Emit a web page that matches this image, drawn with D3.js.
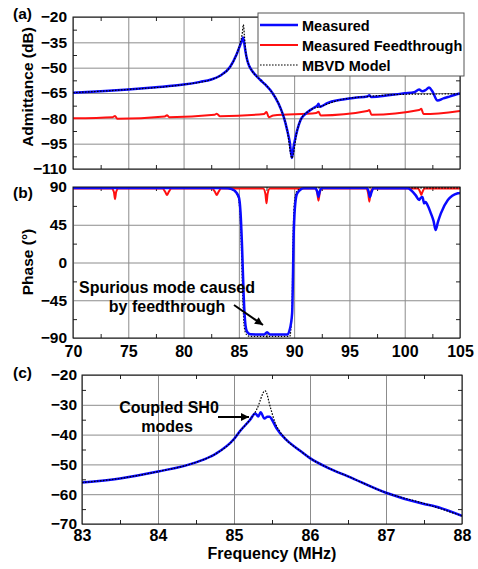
<!DOCTYPE html>
<html><head><meta charset="utf-8">
<script src="https://cdn.jsdelivr.net/npm/d3@7"></script>
<style>
html,body{margin:0;padding:0;background:#fff;}
text{font-family:"Liberation Sans",Arial,sans-serif;font-weight:bold;fill:#000;}
</style></head>
<body><svg id="chart" width="478" height="569"></svg>
<script>
// ---------------- DATA ----------------
// Panel (a): admittance (dB) vs frequency (MHz)
const aMeasured = [[70,-64.8],[72.5,-63.9],[75,-62.9],[77.5,-61.6],[80,-60],[81.5,-58.4],[82.5,-57],[83.3,-54.8],[84.2,-49.6],[84.8,-42],[85.1,-37],[85.3,-33.5],[85.38,-32.2],[85.45,-34],[85.6,-40.5],[85.75,-45.3],[85.9,-48.4],[86.05,-50.4],[86.5,-54.3],[86.95,-57.3],[87.4,-60.1],[87.86,-63.4],[88.3,-67.8],[88.77,-74],[89.1,-80],[89.37,-87],[89.6,-94],[89.8,-103.5],[89.95,-97],[90.1,-92],[90.28,-87],[90.58,-81],[91.0,-77.5],[91.49,-75],[91.9,-73.3],[92.1,-72.4],[92.2,-71.4],[92.3,-73.2],[92.5,-72.8],[93,-71],[94.2,-69],[95.5,-67.8],[96.6,-67.1],[96.8,-66.4],[96.95,-67.3],[98.7,-66.2],[100,-65.2],[100.85,-64.6],[101.3,-63],[101.6,-64],[101.9,-63.2],[102.2,-61.7],[102.5,-64],[102.97,-69.5],[103.5,-68.2],[103.9,-67.4],[104.5,-66.2],[105,-65.3]];
const aFeedthrough = [[70,-80],[73.6,-79.3],[73.8,-78.6],[74.0,-80.2],[78.3,-78.9],[78.5,-78.2],[78.7,-79.3],[82.8,-77.9],[83.0,-77.3],[83.3,-78.7],[87.3,-77.4],[87.5,-76.2],[87.7,-79.3],[88.1,-78.3],[92.0,-76.8],[92.2,-76.1],[92.4,-78.3],[96.6,-75.7],[96.8,-75.1],[97.0,-77.9],[101.3,-75.1],[101.5,-74.3],[101.7,-77.5],[105,-75.6]];
const aModel = [[70,-64.8],[75,-62.9],[80,-60],[82.5,-57],[83.3,-54.8],[84.2,-49.6],[84.8,-42],[85.1,-36],[85.3,-30],[85.41,-24.5],[85.5,-31],[85.65,-42],[85.9,-48.4],[86.05,-50.4],[86.95,-57.3],[87.86,-63.4],[88.77,-74],[89.37,-87],[89.8,-103.5],[90.28,-87],[90.58,-81],[91.49,-75],[92.4,-73],[94.2,-69],[96.8,-67],[98.7,-66.1],[100.5,-65.7],[103,-65.6],[105,-65.5]];
// Panel (b): phase (deg) vs frequency (MHz)
const bMeasured = [[70,88.8],[83,88.8],[84.0,88.5],[84.53,86.4],[84.99,78.4],[85.15,60],[85.29,18.8],[85.44,-40.7],[85.6,-75],[85.74,-82.5],[86.05,-85.6],[87.3,-85.8],[87.55,-83],[87.8,-85.8],[89.37,-85.8],[89.6,-80],[89.82,-60],[89.97,38.8],[90.1,70],[90.28,82.5],[90.88,88.5],[91.9,88.8],[92.1,84],[92.2,78.4],[92.3,84],[92.5,88.8],[96.6,88.8],[96.75,84],[96.85,78],[97.0,84],[97.2,88.8],[100.3,88.5],[100.55,86.4],[101,80],[101.3,74.5],[101.45,77],[101.6,78],[101.76,70.5],[101.9,72],[102.06,68.5],[102.37,58.5],[102.6,50],[102.8,38.7],[103.0,48],[103.27,58.5],[103.9,74.5],[104.3,79.5],[104.8,82.5],[105,83]];
const bFeedthrough = [[70,88.3],[73.5,88.3],[73.7,84],[73.8,75.5],[73.9,84],[74.1,88.3],[78.1,88.3],[78.35,84],[78.5,80.5],[78.65,84],[78.9,88.3],[82.6,88.3],[82.85,84],[83.0,80.5],[83.15,84],[83.4,88.3],[87.2,88.3],[87.4,82],[87.5,70.6],[87.6,82],[87.8,88.3],[91.9,88.3],[92.1,82],[92.2,73.7],[92.3,82],[92.5,88.3],[96.5,88.3],[96.7,82],[96.8,72.5],[96.9,82],[97.1,88.3],[101.2,88.3],[101.4,84],[101.5,80.5],[101.6,84],[101.8,88.3],[105,88.3]];
const bModel = [[70,89],[84,88.5],[84.5,86],[84.9,79],[85.1,60],[85.22,20],[85.35,-40],[85.5,-78],[85.7,-86],[86,-88],[89.6,-88],[89.8,-60],[89.92,40],[90.05,75],[90.3,86],[91,89],[105,89]];
// Panel (c): admittance (dB) zoom around resonance
const cMeasured = [[83,-56.1],[83.5,-54.7],[84,-52.4],[84.5,-49.3],[84.75,-46.6],[85.0,-41.5],[85.08,-38.8],[85.21,-35.1],[85.28,-32.9],[85.32,-33.9],[85.35,-32.5],[85.40,-34.6],[85.44,-34.0],[85.47,-34.0],[85.5,-35],[85.56,-37.9],[85.69,-41.8],[85.87,-45.4],[86.0,-47.9],[86.25,-51.3],[86.5,-54],[87,-59.5],[87.5,-63.3],[87.65,-64.1],[88,-67.3]];
const cModel = [[83,-56.1],[83.5,-54.7],[84,-52.4],[84.5,-49.3],[84.75,-46.6],[85.0,-41.5],[85.08,-38.8],[85.21,-35],[85.3,-31.5],[85.41,-25.3],[85.48,-31],[85.54,-36],[85.6,-38.8],[85.69,-41.8],[85.87,-45.4],[86.0,-47.9],[86.25,-51.3],[86.5,-54],[87,-59.5],[87.5,-63.1],[88,-67.3]];
// Ticks
const abXTicks = [70,75,80,85,90,95,100,105];
const abXMinor = [72.5,77.5,82.5,87.5,92.5,97.5,102.5];
const aYTicks = [-20,-35,-50,-65,-80,-95,-110];
const aYMinor = [-27.5,-42.5,-57.5,-72.5,-87.5,-102.5];
const bYTicks = [90,45,0,-45,-90];
const bYMinor = [67.5,22.5,-22.5,-67.5];
const cXTicks = [83,84,85,86,87,88];
const cXMinor = [83.5,84.5,85.5,86.5,87.5];
const cYTicks = [-20,-30,-40,-50,-60,-70];
const cYMinor = [-25,-35,-45,-55,-65];
const legendLabels = ["Measured","Measured Feedthrough","MBVD Model"];

// ---------------- DRAW ----------------
const svg = d3.select("#chart");
const BLUE = "#0a0aff", RED = "#ff1010";
const defs = svg.append("defs");
defs.append("marker").attr("id","arr").attr("viewBox","0 0 10 10").attr("refX",10).attr("refY",5)
  .attr("markerWidth",10).attr("markerHeight",8).attr("markerUnits","userSpaceOnUse").attr("orient","auto")
  .append("path").attr("d","M0,0 L10,5 L0,10 z").attr("fill","#000");

let clipId = 0;
function panel(o){
  const x = d3.scaleLinear().domain(o.xd).range([o.l,o.r]);
  const y = d3.scaleLinear().domain(o.yd).range([o.b,o.t]);
  const g = svg.append("g");
  const H = o.b-o.t, W = o.r-o.l;
  const clean = s => { s.select(".domain").remove(); };
  // grid
  g.append("g").attr("transform",`translate(0,${o.b})`)
    .call(d3.axisBottom(x).tickValues(o.xt).tickSize(-H).tickFormat(""))
    .call(clean).selectAll("line").attr("stroke","#8c8c8c").attr("stroke-width",1);
  g.append("g").attr("transform",`translate(${o.l},0)`)
    .call(d3.axisLeft(y).tickValues(o.yt).tickSize(-W).tickFormat(""))
    .call(clean).selectAll("line").attr("stroke","#8c8c8c").attr("stroke-width",1);
  // minor ticks on four sides (inward)
  const mk = (axis, tr) => g.append("g").attr("transform",tr).call(axis.tickSize(-4).tickFormat(""))
      .call(clean).selectAll("line").attr("stroke","#222").attr("stroke-width",1);
  mk(d3.axisBottom(x).tickValues(o.xm), `translate(0,${o.b})`);
  mk(d3.axisTop(x).tickValues(o.xm), `translate(0,${o.t})`);
  mk(d3.axisLeft(y).tickValues(o.ym), `translate(${o.l},0)`);
  mk(d3.axisRight(y).tickValues(o.ym), `translate(${o.r},0)`);
  // tick labels
  const ya = g.append("g").attr("transform",`translate(${o.l},0)`)
    .call(d3.axisLeft(y).tickValues(o.yt).tickSize(0).tickPadding(o.ypad).tickFormat(d3.format("d")));
  ya.select(".domain").remove();
  ya.selectAll("text").style("font-size","15.5px").style("font-family","Liberation Sans, Arial").style("font-weight","bold");
  if (o.xlabels){
    const xa = g.append("g").attr("transform",`translate(0,${o.b})`)
      .call(d3.axisBottom(x).tickValues(o.xt).tickSize(0).tickFormat(d3.format("d")));
    xa.select(".domain").remove();
    xa.selectAll("text").attr("dy",null).attr("y",o.xlabY)
      .style("font-size","16px").style("font-family","Liberation Sans, Arial").style("font-weight","bold");
  }
  // clip
  const id = "clip"+(clipId++);
  defs.append("clipPath").attr("id",id).append("rect").attr("x",o.l).attr("y",o.t).attr("width",W).attr("height",H);
  const pg = g.append("g").attr("clip-path",`url(#${id})`);
  const line = d3.line().x(d=>x(d[0])).y(d=>y(d[1])).curve(d3.curveMonotoneX);
  o.series.forEach(s=>{
    pg.append("path").datum(s.data).attr("d",line).attr("fill","none")
      .attr("stroke",s.color).attr("stroke-width",s.w).attr("stroke-dasharray",s.dash||null)
      .attr("stroke-linejoin","round");
  });
  // border
  g.append("rect").attr("x",o.l).attr("y",o.t).attr("width",W).attr("height",H)
    .attr("fill","none").attr("stroke","#111").attr("stroke-width",1);
  return {x,y,g};
}

const dotted = {color:"#000", w:1.2, dash:"1.6,1.4"};
// Panel (a)
panel({l:73,r:460,t:17,b:169,xd:[70,105],yd:[-110,-20],xt:abXTicks,xm:abXMinor,yt:aYTicks,ym:aYMinor,ypad:6,xlabels:false,
  series:[{data:aFeedthrough,color:RED,w:2},{data:aMeasured,color:BLUE,w:2.5},Object.assign({data:aModel},dotted)]});
// Panel (b)
panel({l:73,r:460,t:187,b:338,xd:[70,105],yd:[-90,90],xt:abXTicks,xm:abXMinor,yt:bYTicks,ym:bYMinor,ypad:6,xlabels:true,xlabY:19,
  series:[{data:bFeedthrough,color:RED,w:2},Object.assign({data:bModel},dotted),{data:bMeasured,color:BLUE,w:2.5}]});
// Panel (c)
panel({l:82,r:462,t:375,b:524,xd:[83,88],yd:[-70,-20],xt:cXTicks,xm:cXMinor,yt:cYTicks,ym:cYMinor,ypad:5,xlabels:true,xlabY:17,
  series:[{data:cMeasured,color:BLUE,w:2.5},Object.assign({data:cModel},dotted)]});

// Legend (panel a)
const lg = svg.append("g");
lg.append("rect").attr("x",258).attr("y",13).attr("width",206).attr("height",63).attr("fill","#fff").attr("stroke","#555").attr("stroke-width",1);
const legStyles = [{color:BLUE,w:2.5},{color:RED,w:2},dotted];
const legY = [25,45,65];
legendLabels.forEach((t,i)=>{
  lg.append("line").attr("x1",260).attr("x2",298).attr("y1",legY[i]).attr("y2",legY[i])
    .attr("stroke",legStyles[i].color).attr("stroke-width",legStyles[i].w).attr("stroke-dasharray",legStyles[i].dash||null);
  lg.append("text").attr("x",302).attr("y",legY[i]+5.5).style("font-size","14.5px").text(t);
});

// Panel letters & axis titles
svg.append("text").attr("x",13).attr("y",19).style("font-size","15.5px").text("(a)");
svg.append("text").attr("x",13).attr("y",198).style("font-size","15.5px").text("(b)");
svg.append("text").attr("x",13).attr("y",378).style("font-size","15.5px").text("(c)");
svg.append("text").attr("transform","translate(33,87) rotate(-90)").attr("text-anchor","middle").style("font-size","15.5px").text("Admittance (dB)");
svg.append("text").attr("transform","translate(33,262) rotate(-90)").attr("text-anchor","middle").style("font-size","15.5px").text("Phase (°)");
svg.append("text").attr("x",272).attr("y",559).attr("text-anchor","middle").style("font-size","16px").text("Frequency (MHz)");

// Annotations
svg.append("text").attr("x",167).attr("y",293).attr("text-anchor","middle").style("font-size","16px").text("Spurious mode caused");
svg.append("text").attr("x",167).attr("y",312).attr("text-anchor","middle").style("font-size","16px").text("by feedthrough");
svg.append("line").attr("x1",234).attr("y1",305).attr("x2",263).attr("y2",325).attr("stroke","#000").attr("stroke-width",2).attr("marker-end","url(#arr)");
svg.append("text").attr("x",169).attr("y",413).attr("text-anchor","middle").style("font-size","16px").text("Coupled SH0");
svg.append("text").attr("x",167).attr("y",432).attr("text-anchor","middle").style("font-size","16px").text("modes");
svg.append("line").attr("x1",218).attr("y1",417).attr("x2",249).attr("y2",417).attr("stroke","#000").attr("stroke-width",2).attr("marker-end","url(#arr)");
</script></body></html>
